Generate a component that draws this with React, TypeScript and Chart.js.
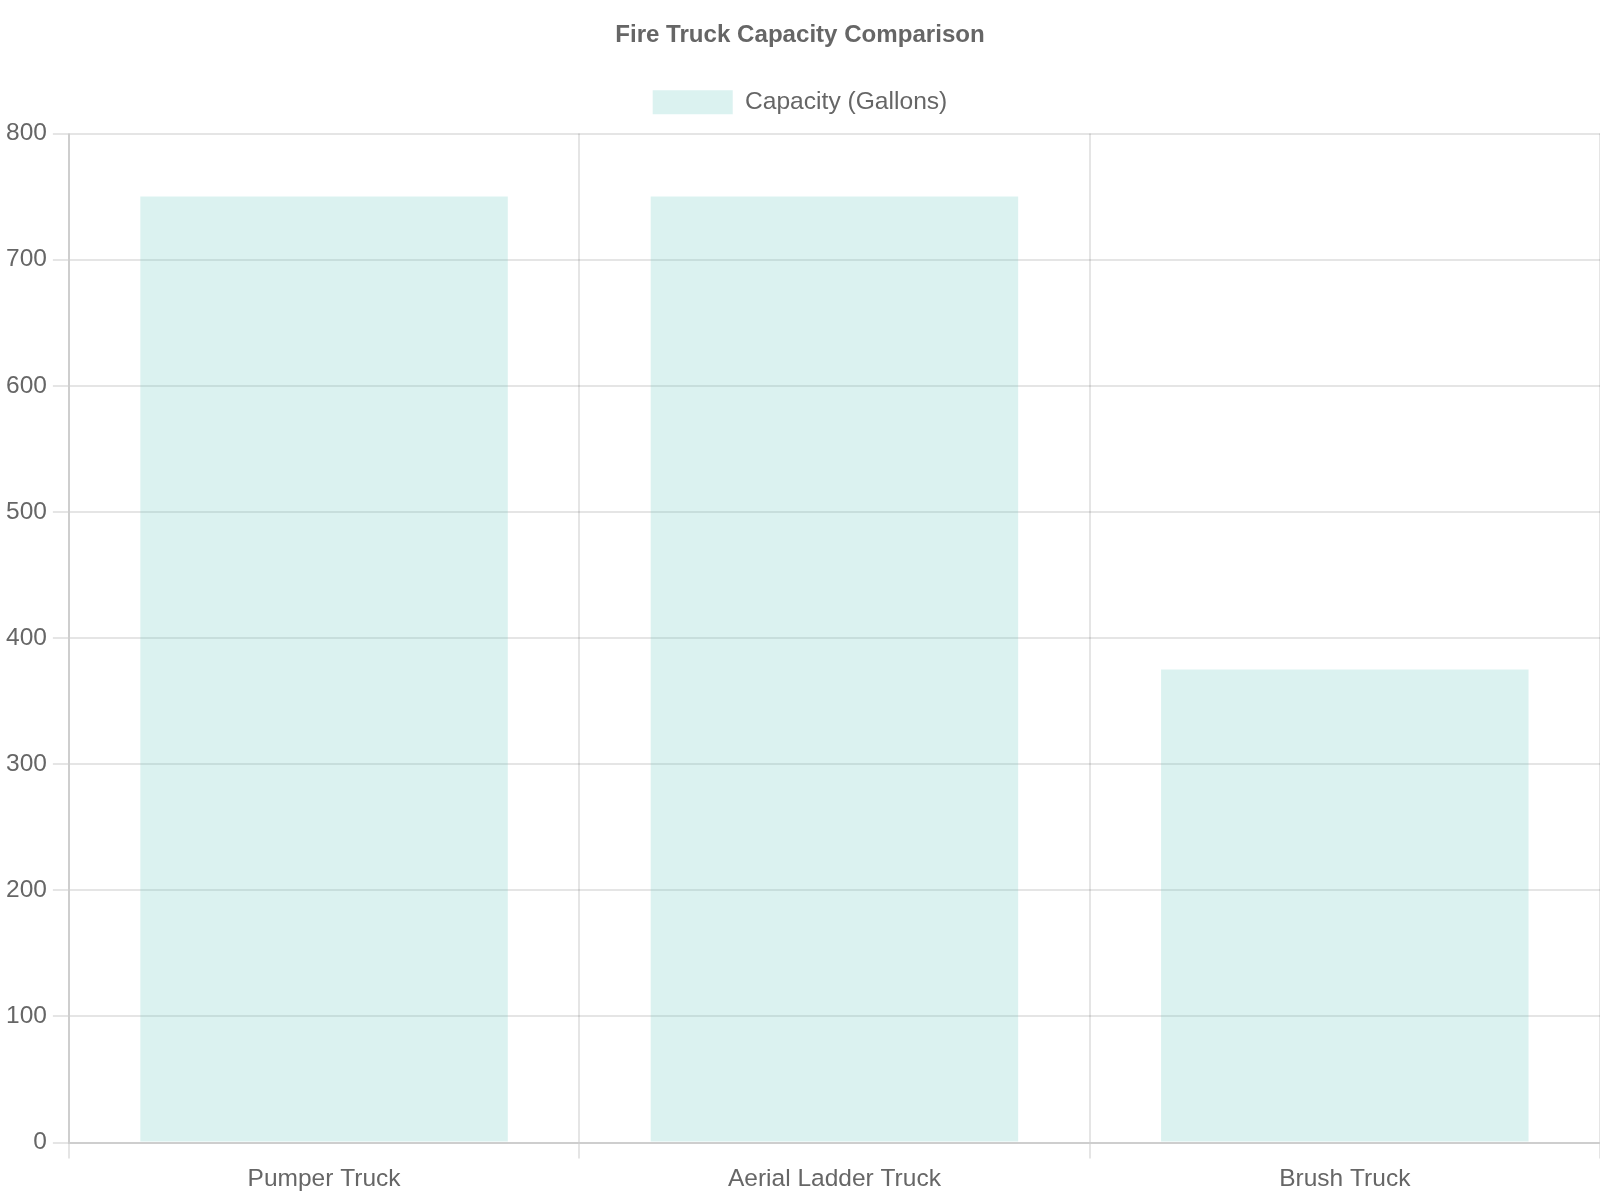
import React, { useEffect, useRef } from 'react';
import { Chart, registerables } from 'chart.js';

Chart.register(...registerables);

const truckTypes = ['Pumper Truck', 'Aerial Ladder Truck', 'Brush Truck'];
const capacityGallons = [750, 750, 375];
const seriesLabel = 'Capacity (Gallons)';
const chartTitle = 'Fire Truck Capacity Comparison';

const FONT = '"Liberation Sans", Arial, Helvetica, sans-serif';

const App: React.FC = () => {
  const chartRef = useRef<HTMLCanvasElement | null>(null);
  const chartInstance = useRef<Chart | null>(null);

  useEffect(() => {
    if (!chartRef.current) return;
    if (chartInstance.current) {
      chartInstance.current.destroy();
    }
    const ctx = chartRef.current.getContext('2d');
    if (!ctx) return;

    Chart.defaults.font.family = FONT;
    Chart.defaults.color = '#666';

    chartInstance.current = new Chart(ctx, {
      type: 'bar',
      data: {
        labels: truckTypes,
        datasets: [
          {
            label: seriesLabel,
            data: capacityGallons,
            backgroundColor: 'rgba(75, 190, 178, 0.2)',
            borderWidth: 0,
          },
        ],
      },
      options: {
        responsive: false,
        animation: false,
        devicePixelRatio: 1,
        plugins: {
          title: {
            display: true,
            text: chartTitle,
            font: { size: 24.1, weight: 'bold', family: FONT },
            padding: { top: 21, bottom: 10 },
          },
          legend: {
            position: 'top',
            labels: {
              boxWidth: 80,
              boxHeight: 24,
              padding: 30,
              font: { size: 24.6, family: FONT },
            },
          },
          // empty spacer below the legend
          subtitle: {
            display: true,
            text: ' ',
            weight: 500,
            font: { size: 1, lineHeight: 1 },
            padding: { top: 0, bottom: 8 },
          },
          tooltip: { enabled: false },
        },
        scales: {
          x: {
            grid: { lineWidth: 2, tickLength: 16 },
            border: { width: 2 },
            ticks: { font: { size: 24.5, family: FONT }, padding: 6 },
          },
          y: {
            beginAtZero: true,
            max: 800,
            grid: { lineWidth: 2, tickLength: 16 },
            border: { width: 2 },
            ticks: { stepSize: 100, font: { size: 24.5, family: FONT }, padding: 6 },
          },
        },
      },
    });

    return () => {
      if (chartInstance.current) {
        chartInstance.current.destroy();
        chartInstance.current = null;
      }
    };
  }, []);

  return (
    <div style={{ position: 'absolute', top: 0, left: 0, width: 1600, height: 1200, background: '#fff' }}>
      <canvas ref={chartRef} width={1600} height={1200}></canvas>
    </div>
  );
};

export default App;
